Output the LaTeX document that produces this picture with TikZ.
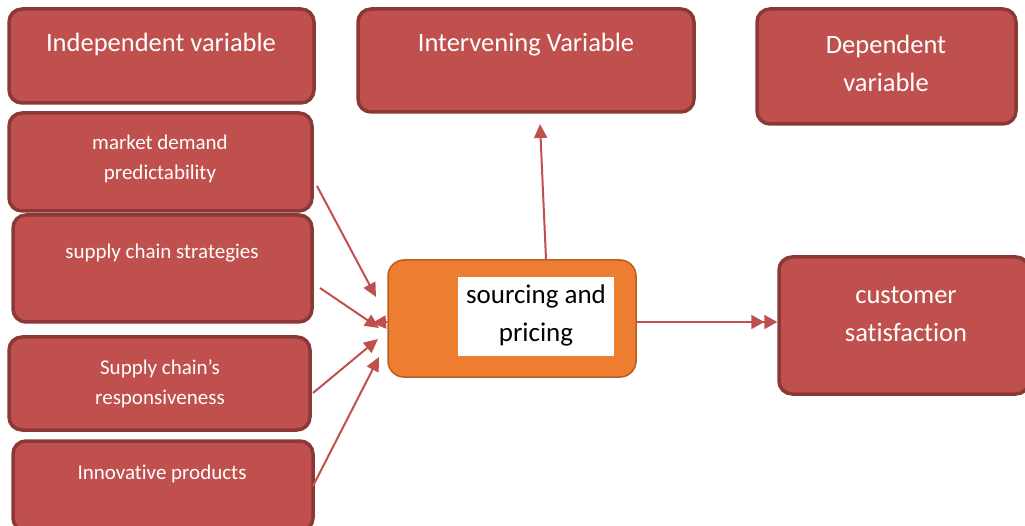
\documentclass[tikz,border=0pt]{standalone}
\usepackage{fontspec}
\setmainfont{Carlito}[Ligatures=NoCommon]
\usetikzlibrary{arrows.meta}
\definecolor{boxred}{HTML}{C0504D}
\definecolor{boxedge}{HTML}{8C3836}
\definecolor{orfill}{HTML}{ED7D31}
\definecolor{oredge}{HTML}{B65F1E}
\begin{document}
\begin{tikzpicture}[x=1pt,y=-1pt,
  rbox/.style={rectangle, draw=boxedge, line width=3.5pt, fill=boxred, rounded corners=13pt, inner sep=0pt},
  obox/.style={rectangle, draw=oredge, line width=1.5pt, fill=orfill, rounded corners=16pt, inner sep=0pt},
  wbig/.style={text=white, font=\fontsize{26.5}{38}\selectfont, align=center, inner sep=0pt},
  wsmall/.style={text=white, font=\fontsize{21}{30}\selectfont, align=center, inner sep=0pt},
  btxt/.style={text=black, font=\fontsize{27}{38}\selectfont, align=center, inner sep=0pt},
  arr/.style={draw=boxred, line width=2pt, -{Triangle[length=14pt,width=13pt]}},
  darr/.style={draw=boxred, line width=2pt, -{Triangle[length=13pt,width=14pt]Triangle[length=13pt,width=14pt]}}
]
\useasboundingbox (0,0) rectangle (1025,526);
% boxes
\node[rbox, minimum width=305pt, minimum height=94pt] (iv) at (161.5,56) {};
\node[rbox, minimum width=336pt, minimum height=103pt] (mv) at (526,60.5) {};
\node[rbox, minimum width=259pt, minimum height=115pt] (dv) at (886.5,66.5) {};
\node[rbox, minimum width=303pt, minimum height=98pt] (md) at (160.5,162) {};
\node[rbox, minimum width=299pt, minimum height=107pt] (sc) at (162.5,268.5) {};
\node[rbox, minimum width=301pt, minimum height=93pt] (sr) at (159.5,383.5) {};
\node[rbox, minimum width=300pt, minimum height=90pt] (ip) at (163,486) {};
\node[rbox, minimum width=250pt, minimum height=137pt] (cs) at (904,325.5) {};
\node[obox, minimum width=248pt, minimum height=117pt] (sp) at (512,318.5) {};
\node[fill=white, minimum width=156pt, minimum height=79pt, inner sep=0pt] (wb) at (536,316.5) {};
% texts
\node[wbig] (ivt) at (161,44) {Independent variable};
\node[wbig] (mvt) at (526,45) {Intervening Variable};
\node[wbig] (dvt) at (886,63) {Dependent\\variable};
\node[wsmall] (mdt) at (160,159) {market demand\\predictability};
\node[wsmall] (sct) at (162,253) {supply chain strategies};
\node[wsmall] (srt) at (160,384) {Supply chain’s\\responsiveness};
\node[wsmall] (ipt) at (162,474) {Innovative products};
\node[wbig] (cst) at (906,314) {customer\\satisfaction};
\node[btxt] (spt) at (536,315) {sourcing and\\pricing};
% connectors
\coordinate (a1) at (317,186);
\coordinate (a1e) at (376,297);
\coordinate (a2) at (320,288);
\coordinate (a2e) at (379,328);
\coordinate (a3) at (313,393);
\coordinate (a3e) at (378,339);
\coordinate (a4) at (313,486);
\coordinate (a4e) at (379,357);
\coordinate (a5) at (546,260);
\coordinate (a5e) at (540,124);
\coordinate (a6e) at (372,323);
\coordinate (a7) at (636,322);
\coordinate (a7e) at (778,322);
\draw[arr] (a1) -- (a1e);
\draw[arr] (a2) -- (a2e);
\draw[arr] (a3) -- (a3e);
\draw[arr] (a4) -- (a4e);
\draw[arr] (sp.north -| a5) -- (a5e);
\draw[arr] (sp.west |- a6e) ++(0,-1) -- (a6e);
\draw[darr] (sp.east |- a7) -- (cs.west |- a7e);
\end{tikzpicture}
\end{document}
